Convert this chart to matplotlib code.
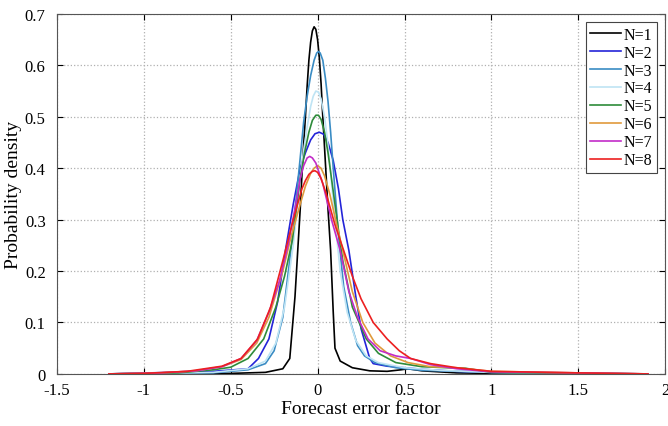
import matplotlib
matplotlib.use("Agg")
import matplotlib.pyplot as plt

# ── Data (forecast error factor vs density) ─────────────────────────────
labels = ["N=1", "N=2", "N=3", "N=4", "N=5", "N=6", "N=7", "N=8"]
colors = ["#000000", "#2424d8", "#3a8cc4", "#bfe4f4",
          "#2e8b3a", "#e09a3c", "#c22cc8", "#ec2020"]

x1 = [-1.2, -0.5, -0.3, -0.2, -0.16, -0.13, -0.1, -0.085, -0.07, -0.06, -0.05,
      -0.04, -0.03, -0.02, -0.01, 0.0, 0.01, 0.02, 0.03, 0.04, 0.05, 0.06,
      0.075, 0.09, 0.1, 0.13, 0.2, 0.3, 0.4, 0.48, 0.52, 0.6, 0.8, 1.0, 1.9]
y1 = [0.0, 0.001, 0.003, 0.01, 0.03, 0.15, 0.32, 0.42, 0.5, 0.56, 0.61,
      0.645, 0.667, 0.675, 0.67, 0.65, 0.615, 0.565, 0.5, 0.44, 0.38, 0.32,
      0.24, 0.12, 0.05, 0.025, 0.012, 0.006, 0.005, 0.008, 0.01, 0.006, 0.002, 0.001, 0.0]

x2 = [-1.2, -0.6, -0.4, -0.34, -0.28, -0.23, -0.185, -0.14, -0.1, -0.07, -0.04,
      -0.015, 0.01, 0.035, 0.06, 0.09, 0.12, 0.145, 0.18, 0.22, 0.25, 0.3, 0.32,
      0.4, 0.5, 0.6, 0.8, 1.0, 1.5, 1.9]
y2 = [0.0, 0.005, 0.01, 0.03, 0.068, 0.14, 0.24, 0.33, 0.4, 0.43, 0.455,
      0.467, 0.47, 0.466, 0.45, 0.415, 0.36, 0.3, 0.24, 0.15, 0.088, 0.03, 0.02,
      0.015, 0.012, 0.009, 0.005, 0.003, 0.001, 0.0]

x3 = [-1.2, -0.6, -0.4, -0.3, -0.25, -0.2, -0.15, -0.1, -0.08, -0.06, -0.04,
      -0.02, -0.005, 0.005, 0.015, 0.03, 0.045, 0.06, 0.075, 0.09, 0.12, 0.15,
      0.19, 0.23, 0.27, 0.33, 0.45, 0.6, 0.8, 1.0, 1.5, 1.9]
y3 = [0.0, 0.002, 0.008, 0.02, 0.045, 0.11, 0.25, 0.42, 0.49, 0.54, 0.58,
      0.61, 0.624, 0.627, 0.624, 0.61, 0.575, 0.53, 0.47, 0.4, 0.27, 0.17,
      0.1, 0.055, 0.035, 0.022, 0.012, 0.007, 0.005, 0.003, 0.001, 0.0]

x4 = [-1.2, -0.6, -0.4, -0.3, -0.24, -0.19, -0.14, -0.1, -0.08, -0.06, -0.04,
      -0.025, -0.01, 0.005, 0.02, 0.04, 0.055, 0.07, 0.1, 0.13, 0.17, 0.22,
      0.28, 0.35, 0.5, 0.7, 1.0, 1.5, 1.9]
y4 = [0.0, 0.003, 0.01, 0.025, 0.06, 0.13, 0.25, 0.38, 0.435, 0.48, 0.52,
      0.54, 0.55, 0.548, 0.535, 0.5, 0.46, 0.41, 0.3, 0.2, 0.12, 0.065,
      0.035, 0.022, 0.012, 0.007, 0.003, 0.001, 0.0]

x5 = [-1.2, -0.8, -0.6, -0.5, -0.4, -0.31, -0.24, -0.19, -0.145, -0.1, -0.075,
      -0.05, -0.03, -0.01, 0.005, 0.02, 0.04, 0.06, 0.08, 0.12, 0.145, 0.2,
      0.28, 0.35, 0.45, 0.6, 0.75, 0.85, 1.0, 1.5, 1.9]
y5 = [0.0, 0.002, 0.008, 0.013, 0.03, 0.068, 0.13, 0.19, 0.26, 0.38, 0.43,
      0.47, 0.493, 0.503, 0.503, 0.495, 0.47, 0.43, 0.38, 0.28, 0.22, 0.13,
      0.068, 0.04, 0.022, 0.014, 0.012, 0.011, 0.003, 0.001, 0.0]

x6 = [-1.2, -0.9, -0.7, -0.55, -0.44, -0.35, -0.28, -0.2, -0.15, -0.1, -0.07,
      -0.04, -0.02, 0.0, 0.02, 0.04, 0.07, 0.11, 0.145, 0.2, 0.26, 0.33, 0.42,
      0.52, 0.65, 0.8, 1.0, 1.5, 1.9]
y6 = [0.0, 0.002, 0.006, 0.014, 0.028, 0.06, 0.11, 0.2, 0.27, 0.33, 0.365,
      0.39, 0.4, 0.405, 0.4, 0.385, 0.35, 0.29, 0.24, 0.16, 0.1, 0.06, 0.035,
      0.022, 0.014, 0.012, 0.005, 0.002, 0.0]

x7 = [-1.2, -0.9, -0.7, -0.55, -0.44, -0.35, -0.28, -0.22, -0.17, -0.12, -0.1,
      -0.08, -0.06, -0.045, -0.03, -0.01, 0.01, 0.03, 0.08, 0.13, 0.18, 0.23,
      0.29, 0.36, 0.45, 0.535, 0.65, 0.8, 1.0, 1.5, 1.9]
y7 = [0.0, 0.002, 0.006, 0.014, 0.03, 0.065, 0.12, 0.18, 0.25, 0.34, 0.38,
      0.405, 0.42, 0.423, 0.42, 0.41, 0.39, 0.37, 0.3, 0.24, 0.16, 0.11,
      0.068, 0.045, 0.035, 0.03, 0.018, 0.01, 0.004, 0.002, 0.0]

x8 = [-1.2, -1.0, -0.75, -0.55, -0.44, -0.345, -0.27, -0.2, -0.14, -0.09, -0.07,
      -0.05, -0.03, -0.015, 0.0, 0.02, 0.05, 0.1, 0.15, 0.2, 0.25, 0.32, 0.4,
      0.47, 0.535, 0.65, 0.8, 1.0, 1.5, 1.9]
y8 = [0.0, 0.001, 0.005, 0.015, 0.03, 0.068, 0.13, 0.22, 0.3, 0.36, 0.376,
      0.388, 0.394, 0.395, 0.392, 0.38, 0.35, 0.29, 0.24, 0.19, 0.146, 0.1, 0.068,
      0.045, 0.03, 0.02, 0.012, 0.005, 0.002, 0.0]

xs = [x1, x2, x3, x4, x5, x6, x7, x8]
ys = [y1, y2, y3, y4, y5, y6, y7, y8]

plt.rcParams["font.family"] = ["Liberation Serif", "DejaVu Serif"]

fig = plt.figure(figsize=(6.68, 4.27), dpi=100)
ax = fig.add_axes([0.085, 0.122, 0.911, 0.843])

for x, y, c, lab in zip(xs, ys, colors, labels):
    ax.plot(x, y, color=c, linewidth=1.2, label=lab)

ax.set_xlim(-1.5, 2)
ax.set_ylim(0, 0.7)
ax.set_xticks([-1.5, -1, -0.5, 0, 0.5, 1, 1.5, 2])
ax.set_xticklabels(["-1.5", "-1", "-0.5", "0", "0.5", "1", "1.5", "2"])
ax.set_yticks([0, 0.1, 0.2, 0.3, 0.4, 0.5, 0.6, 0.7])
ax.set_yticklabels(["0", "0.1", "0.2", "0.3", "0.4", "0.5", "0.6", "0.7"])
ax.tick_params(direction="in", top=True, right=True, labelsize=12, length=4)
ax.tick_params(axis="x", pad=6)
ax.tick_params(axis="y", pad=8)
ax.grid(True, linestyle=":", color="#b0b0b0", linewidth=0.9)
for s in ax.spines.values():
    s.set_color("#555555")
    s.set_linewidth(0.8)

ax.set_xlabel("Forecast error factor", fontsize=14, labelpad=1)
ax.set_ylabel("Probability density", fontsize=14, labelpad=2)

leg = ax.legend(loc="upper right", fontsize=11.5, handlelength=1.9,
                handletextpad=0.2, labelspacing=0.12, borderpad=0.3,
                fancybox=False, framealpha=1, borderaxespad=0.5)
leg.get_frame().set_edgecolor("#444444")
leg.get_frame().set_linewidth(0.8)

fig.savefig("out.png", dpi=100)
